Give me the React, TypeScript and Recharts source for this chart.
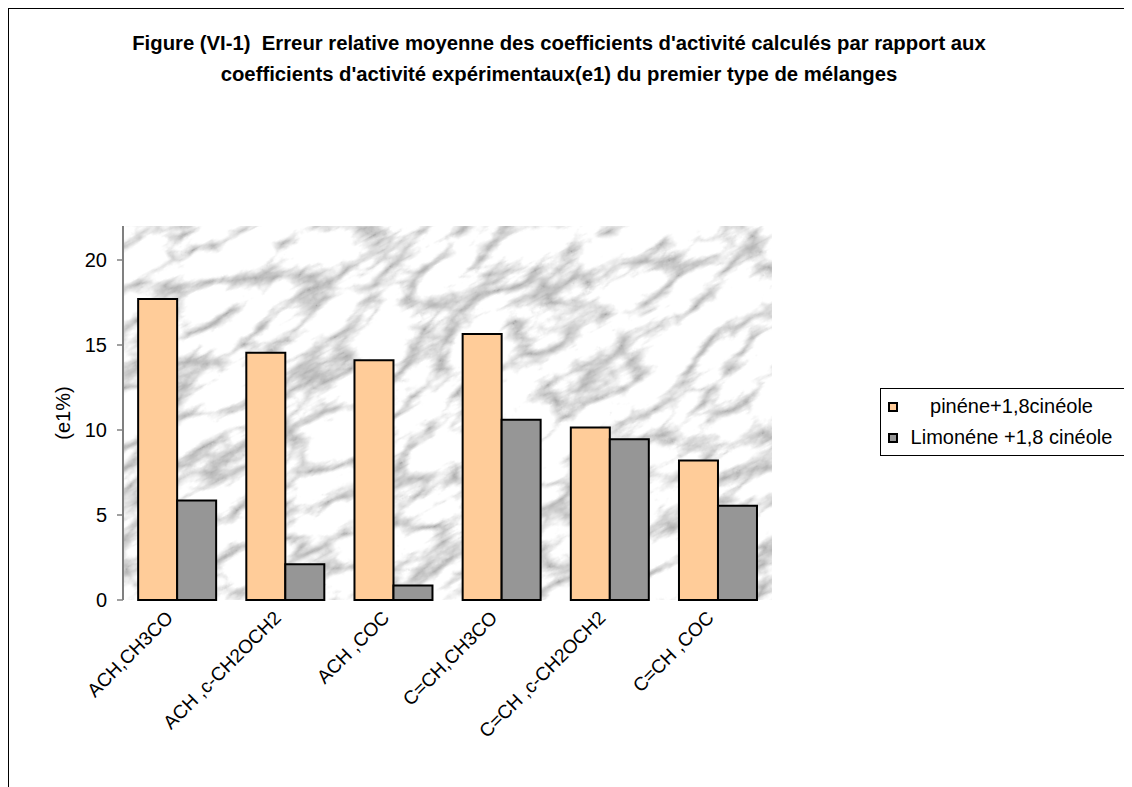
import React from 'react';
import {
  BarChart,
  Bar,
  XAxis,
  YAxis,
  CartesianGrid,
  ReferenceArea,
  Legend,
} from 'recharts';

const categories = ['ACH,CH3CO', 'ACH ,c-CH2OCH2', 'ACH ,COC', 'C=CH,CH3CO', 'C=CH ,c-CH2OCH2', 'C=CH ,COC'];
const pineneValues = [17.7, 14.55, 14.1, 15.65, 10.15, 8.2];
const limoneneValues = [5.85, 2.1, 0.85, 10.6, 9.45, 5.55];
const yTicks = [0, 5, 10, 15, 20];
const edgeTicks = [0, 1, 2, 3, 4, 5, 6];

const seriesNames = ['pinéne+1,8cinéole', 'Limonéne +1,8 cinéole'];
const seriesColors = ['#FFCC99', '#969696'];

const data = categories.map((name, i) => ({
  name,
  pinene: pineneValues[i],
  limonene: limoneneValues[i],
}));

const FONT = '"Liberation Sans", Arial, sans-serif';

const CategoryTick = ({ x, y, payload }: any) => (
  <text
    x={x - 3}
    y={y + 19}
    transform={`rotate(-45 ${x - 3} ${y + 19})`}
    textAnchor="end"
    fontSize={19}
    fontFamily={FONT}
    fill="#000"
  >
    {payload.value}
  </text>
);

const YLabel = ({ viewBox }: any) => {
  const cx = viewBox.x;
  const cy = viewBox.y + viewBox.height / 2;
  return (
    <text
      x={cx}
      y={cy}
      transform={`rotate(-90 ${cx} ${cy})`}
      textAnchor="middle"
      dominantBaseline="central"
      fontSize={20}
      fontFamily={FONT}
      fill="#000"
    >
      (e1%)
    </text>
  );
};

const LegendBox = () => (
  <div
    style={{
      border: '1px solid #000',
      background: '#fff',
      padding: '2px 0 2px 7px',
      fontFamily: FONT,
      fontSize: 20,
      color: '#000',
    }}
  >
    {seriesNames.map((label, i) => (
      <div key={label} style={{ display: 'flex', alignItems: 'center', height: 31 }}>
        <div
          style={{
            width: 10,
            height: 10,
            boxSizing: 'border-box',
            border: '2px solid #000',
            background: seriesColors[i],
          }}
        />
        <div style={{ flex: 1, textAlign: 'center', whiteSpace: 'nowrap' }}>{label}</div>
      </div>
    ))}
  </div>
);

export default function App() {
  return (
    <div style={{ position: 'relative', width: 1124, height: 779, overflow: 'hidden' }}>
      <div
        style={{
          position: 'absolute',
          left: 0,
          top: 0,
          width: 1140,
          height: 900,
          border: '1px solid #000',
          background: '#fff',
        }}
      >
        <div
          style={{
            position: 'absolute',
            left: 0,
            top: 19,
            width: 1100,
            textAlign: 'center',
            fontFamily: FONT,
            fontWeight: 'bold',
            fontSize: 20.3,
            lineHeight: '31px',
            color: '#000',
          }}
        >
          Figure (VI-1)&nbsp; Erreur relative moyenne des coefficients d'activité calculés par rapport aux
          <br />
          coefficients d'activité expérimentaux(e1) du premier type de mélanges
        </div>
        <BarChart
          width={1122}
          height={770}
          data={data}
          margin={{ top: 217, right: 359, left: 54, bottom: 59 }}
          barCategoryGap="14%"
          barGap={0}
        >
          <defs>
            <filter id="marbleFx" x="0" y="0" width="1" height="1" colorInterpolationFilters="sRGB">
              <feTurbulence type="turbulence" baseFrequency="0.012 0.028" numOctaves={5} seed={11} result="t" />
              <feColorMatrix
                in="t"
                type="matrix"
                values="0.95 0 0 0 0.66  0.95 0 0 0 0.66  0.95 0 0 0 0.66  0 0 0 0 1"
              />
            </filter>
            <pattern
              id="marble"
              patternUnits="userSpaceOnUse"
              x={-1200}
              y={-1200}
              width={3000}
              height={3000}
              patternTransform="rotate(-28)"
            >
              <rect width={3000} height={3000} fill="#eee" filter="url(#marbleFx)" />
            </pattern>
          </defs>
          <CartesianGrid horizontal={false} vertical={false} fill="url(#marble)" fillOpacity={1} />
          <ReferenceArea fill="none" stroke="#808080" strokeWidth={2} />
          <XAxis
            xAxisId="edge"
            type="number"
            domain={[0, 6]}
            ticks={edgeTicks}
            tickFormatter={() => ''}
            height={0}
            axisLine={{ stroke: '#808080', strokeWidth: 2 }}
            tickLine={{ stroke: '#808080', strokeWidth: 1.5 }}
            tickSize={6}
          />
          <XAxis
            dataKey="name"
            interval={0}
            height={120}
            axisLine={false}
            tickLine={false}
            tickSize={0}
            tickMargin={0}
            tick={<CategoryTick />}
          />
          <YAxis
            width={60}
            domain={[0, 22]}
            ticks={yTicks}
            interval={0}
            axisLine={{ stroke: '#808080', strokeWidth: 2 }}
            tickLine={{ stroke: '#808080', strokeWidth: 1.5 }}
            tickSize={6}
            tickMargin={10}
            tick={{ fill: '#000', fontSize: 20, fontFamily: FONT }}
            label={<YLabel />}
          />
          <Legend
            layout="vertical"
            align="center"
            verticalAlign="middle"
            content={<LegendBox />}
            wrapperStyle={{ left: 871, top: 379, width: 246 }}
          />
          <Bar dataKey="pinene" fill={seriesColors[0]} stroke="#000" strokeWidth={2} isAnimationActive={false} />
          <Bar dataKey="limonene" fill={seriesColors[1]} stroke="#000" strokeWidth={2} isAnimationActive={false} />
        </BarChart>
      </div>
    </div>
  );
}
